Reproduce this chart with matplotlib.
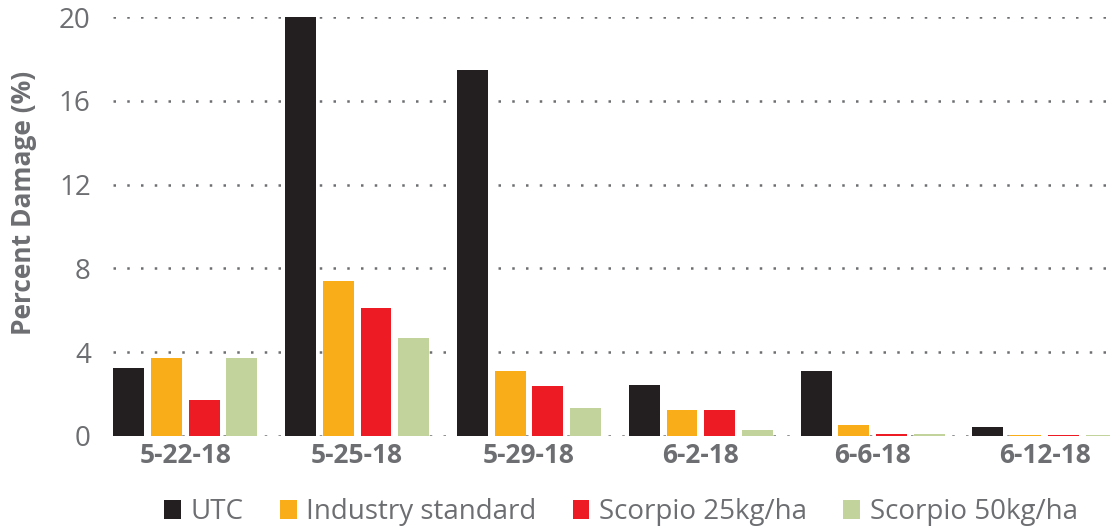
import numpy as np
import matplotlib.pyplot as plt

plt.rcParams['font.family'] = ['Open Sans', 'DejaVu Sans']

dates = ["5-22-18", "5-25-18", "5-29-18", "6-2-18", "6-6-18", "6-12-18"]
series_names = ["UTC", "Industry standard", "Scorpio 25kg/ha", "Scorpio 50kg/ha"]
utc = [3.25, 20.0, 17.45, 2.45, 3.1, 0.43]
industry = [3.72, 7.4, 3.1, 1.24, 0.52, 0.03]
scorpio25 = [1.72, 6.1, 2.39, 1.24, 0.1, 0.04]
scorpio50 = [3.72, 4.68, 1.34, 0.3, 0.08, 0.03]
yticks = [0, 4, 8, 12, 16, 20]

colors = ['#231f20', '#f9ae19', '#ed1c24', '#c2d39b']
grey = '#6d6e71'

fig = plt.figure(figsize=(11.13, 5.29), dpi=100)
ax = fig.add_axes([113 / 1113, 93 / 529, 997 / 1113, 419 / 529])

x = np.arange(len(dates))
pitch = 0.22
width = 0.18
for i, (vals, name) in enumerate(zip([utc, industry, scorpio25, scorpio50], series_names)):
    ax.bar(x + (i - 1.5) * pitch, vals, width, color=colors[i], label=name, zorder=3)

ax.set_xlim(-0.42, 5.38)
ax.set_ylim(0, 20)
ax.set_yticks(yticks)
for t in yticks:
    ax.axhline(t, color='#6d6e71', linestyle=(0, (1, 4.5)), linewidth=1.8, zorder=1)

for s in ax.spines.values():
    s.set_visible(False)
ax.tick_params(axis='both', length=0)
ax.tick_params(axis='y', labelsize=20, labelcolor=grey, pad=16)
ax.set_xticks(x)
ax.set_xticklabels(dates, fontsize=19, fontweight='bold', color=grey)
ax.tick_params(axis='x', pad=4)
ax.set_ylabel("Percent Damage (%)", fontsize=19, fontweight='bold', color=grey)
ax.yaxis.set_label_coords(-0.076, 0.556)

fig.legend(loc='center', bbox_to_anchor=(621 / 1113, 1 - 512 / 529), ncol=4, frameon=False,
           fontsize=20, labelcolor=grey, handlelength=0.6, handleheight=0.7,
           handletextpad=0.35, columnspacing=1.3)

fig.savefig('out.png', dpi=100)
